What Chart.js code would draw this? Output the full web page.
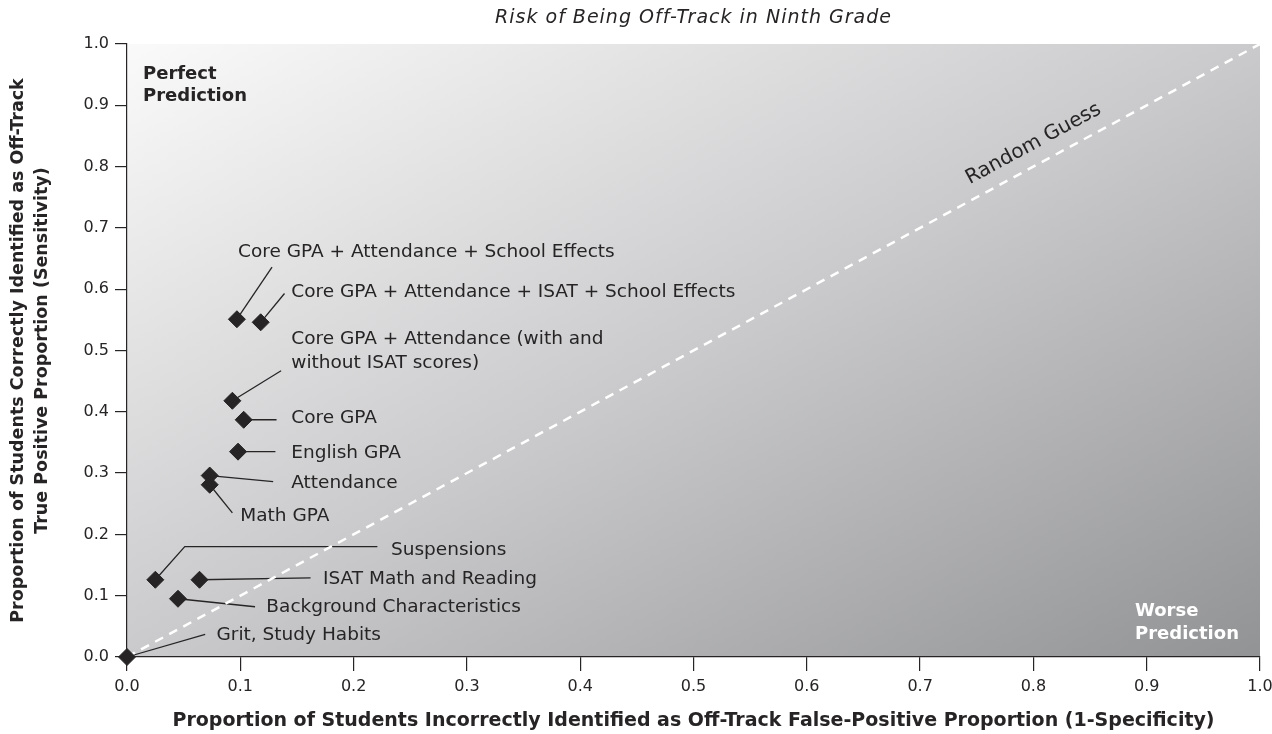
<!DOCTYPE html>
<html>
<head>
<meta charset="utf-8">
<script src="https://cdn.jsdelivr.net/npm/chart.js@4.4.0/dist/chart.umd.min.js"></script>
<style>
  html, body { margin: 0; padding: 0; background: #fff; }
</style>
</head>
<body>
<canvas id="chart" width="1272" height="734"></canvas>
<script>
// predictors and their ROC position (false positive rate, true positive rate)
const predictors = [
  ['Core GPA + Attendance + School Effects'],
  ['Core GPA + Attendance + ISAT + School Effects'],
  ['Core GPA + Attendance (with and', 'without ISAT scores)'],
  ['Core GPA'],
  ['English GPA'],
  ['Attendance'],
  ['Math GPA'],
  ['Suspensions'],
  ['ISAT Math and Reading'],
  ['Background Characteristics'],
  ['Grit, Study Habits']
];
const falsePositive = [0.097, 0.118, 0.093, 0.103, 0.098, 0.073, 0.073, 0.025, 0.064, 0.045, 0.0];
const truePositive  = [0.551, 0.546, 0.418, 0.387, 0.335, 0.296, 0.281, 0.126, 0.126, 0.095, 0.0];

// random guess diagonal
const guessX = [0, 1];
const guessY = [0, 1];

const xTicks = [0, 0.1, 0.2, 0.3, 0.4, 0.5, 0.6, 0.7, 0.8, 0.9, 1.0];
const yTicks = [0, 0.1, 0.2, 0.3, 0.4, 0.5, 0.6, 0.7, 0.8, 0.9, 1.0];

const chartTitle = 'Risk of Being Off-Track in Ninth Grade';
const xTitle = 'Proportion of Students Incorrectly Identified as Off-Track False-Positive Proportion (1-Specificity)';
const yTitle = ['Proportion of Students Correctly Identified as Off-Track', 'True Positive Proportion (Sensitivity)'];

// callout placement, in axis units: where the label text starts, and the leader line bends
const labelAt = [
  [0.098, 0.660], [0.145, 0.595], [0.145, 0.519], [0.145, 0.389], [0.145, 0.332],
  [0.145, 0.283], [0.100, 0.229], [0.233, 0.174], [0.173, 0.127], [0.123, 0.082], [0.079, 0.036]
];
const leaderTo = [
  [[0.128, 0.636]], [[0.139, 0.593]], [[0.136, 0.467]], [[0.132, 0.387]], [[0.131, 0.335]],
  [[0.129, 0.286]], [[0.093, 0.235]], [[0.051, 0.180], [0.221, 0.180]], [[0.162, 0.129]],
  [[0.113, 0.082]], [[0.069, 0.037]]
];

const ink = '#262425';
const FONT = "'DejaVu Sans', sans-serif";
Chart.defaults.font.family = FONT;
Chart.defaults.color = ink;

const calloutPlugin = {
  id: 'callouts',
  beforeDraw(chart) {
    const { ctx } = chart;
    const sx = chart.scales.x, sy = chart.scales.y;
    const x0 = sx.getPixelForValue(0), x1 = sx.getPixelForValue(1);
    const y0 = sy.getPixelForValue(1), y1 = sy.getPixelForValue(0);
    const W = x1 - x0, H = y1 - y0;
    const cx = (x0 + x1) / 2, cy = (y0 + y1) / 2;
    const s = W * H / (W * W + H * H);
    const g = ctx.createLinearGradient(cx - s * H, cy - s * W, cx + s * H, cy + s * W);
    g.addColorStop(0, '#fafafa');
    g.addColorStop(0.5, '#cacacc');
    g.addColorStop(1, '#929395');
    ctx.save();
    ctx.fillStyle = g;
    ctx.fillRect(x0, y0, W, H);
    ctx.restore();
  },
  beforeDatasetsDraw(chart) {
    const { ctx } = chart;
    const sx = chart.scales.x, sy = chart.scales.y;
    ctx.save();
    ctx.strokeStyle = ink;
    ctx.lineWidth = 1.3;
    leaderTo.forEach((path, i) => {
      ctx.beginPath();
      ctx.moveTo(sx.getPixelForValue(falsePositive[i]), sy.getPixelForValue(truePositive[i]));
      path.forEach(p => ctx.lineTo(sx.getPixelForValue(p[0]), sy.getPixelForValue(p[1])));
      ctx.stroke();
    });
    ctx.restore();
  },
  afterDatasetsDraw(chart) {
    const { ctx, chartArea: a } = chart;
    const sx = chart.scales.x, sy = chart.scales.y;
    ctx.save();
    ctx.fillStyle = ink;
    ctx.textBaseline = 'middle';
    ctx.textAlign = 'left';
    ctx.font = `18.5px ${FONT}`;
    predictors.forEach((lines, i) => {
      const x = sx.getPixelForValue(labelAt[i][0]);
      const y = sy.getPixelForValue(labelAt[i][1]);
      lines.forEach((t, k) => ctx.fillText(t, x, y + k * 24));
    });

    // corner notes
    ctx.font = `bold 18px ${FONT}`;
    ctx.fillText('Perfect', a.left + 16, a.top + 30);
    ctx.fillText('Prediction', a.left + 16, a.top + 52);
    ctx.fillStyle = '#ffffff';
    ctx.fillText('Worse', a.right - 125, a.bottom - 46);
    ctx.fillText('Prediction', a.right - 125, a.bottom - 23);

    // random guess label along the diagonal
    const ang = Math.atan2(sy.getPixelForValue(1) - sy.getPixelForValue(0),
                           sx.getPixelForValue(1) - sx.getPixelForValue(0));
    ctx.translate(sx.getPixelForValue(0.8), sy.getPixelForValue(0.837));
    ctx.rotate(ang);
    ctx.fillStyle = ink;
    ctx.textAlign = 'center';
    ctx.font = `20px ${FONT}`;
    ctx.fillText('Random Guess', 0, 0);
    ctx.restore();

    // title, centred over the plot
    ctx.save();
    ctx.fillStyle = ink;
    ctx.textAlign = 'center';
    ctx.textBaseline = 'middle';
    ctx.font = `oblique 19px ${FONT}`;
    ctx.letterSpacing = '1px';
    ctx.fillText(chartTitle, (a.left + a.right) / 2, 18);
    ctx.restore();
  }
};

const axisStyle = (tickLen) => ({
  type: 'linear',
  min: 0,
  max: 1,
  ticks: { color: ink, font: { size: 16 }, padding: 6, autoSkip: false, maxRotation: 0,
           callback: v => Number(v).toFixed(1) },
  grid: { drawOnChartArea: false, drawTicks: true, tickLength: tickLen, color: ink, lineWidth: 1.2 },
  border: { display: true, color: ink, width: 1.2 }
});

const xAxis = Object.assign(axisStyle(14), {
  afterBuildTicks: s => { s.ticks = xTicks.map(v => ({ value: v })); },
  afterFit: s => { s.height = 77; s.paddingRight = 0; s.paddingLeft = 0; },
  title: { display: true, text: xTitle, color: ink, font: { size: 19, weight: 'bold', lineHeight: 1.3 },
           padding: { top: 0, bottom: 1 } }
});
const yAxis = Object.assign(axisStyle(12), {
  afterBuildTicks: s => { s.ticks = yTicks.map(v => ({ value: v })); },
  afterFit: s => { s.width = 127; },
  title: { display: true, text: yTitle, color: ink, font: { size: 17.5, weight: 'bold', lineHeight: 1.38 },
           padding: { top: 6, bottom: 0 } }
});

new Chart(document.getElementById('chart').getContext('2d'), {
  type: 'scatter',
  data: {
    datasets: [
      {
        label: 'Predictors',
        data: falsePositive.map((x, i) => ({ x, y: truePositive[i] })),
        pointStyle: 'rectRot',
        pointRadius: 8.5,
        pointHoverRadius: 8.5,
        backgroundColor: ink,
        borderColor: ink,
        borderWidth: 1,
        clip: false
      },
      {
        label: 'Random Guess',
        data: guessX.map((x, i) => ({ x, y: guessY[i] })),
        showLine: true,
        borderColor: '#ffffff',
        borderWidth: 2.5,
        borderDash: [9, 7],
        pointRadius: 0,
        fill: false
      }
    ]
  },
  options: {
    responsive: false,
    animation: false,
    layout: { padding: { top: 44, right: 12, left: 0, bottom: 0 } },
    scales: { x: xAxis, y: yAxis },
    plugins: { legend: { display: false }, tooltip: { enabled: false }, title: { display: false } }
  },
  plugins: [calloutPlugin]
});
</script>
</body>
</html>
